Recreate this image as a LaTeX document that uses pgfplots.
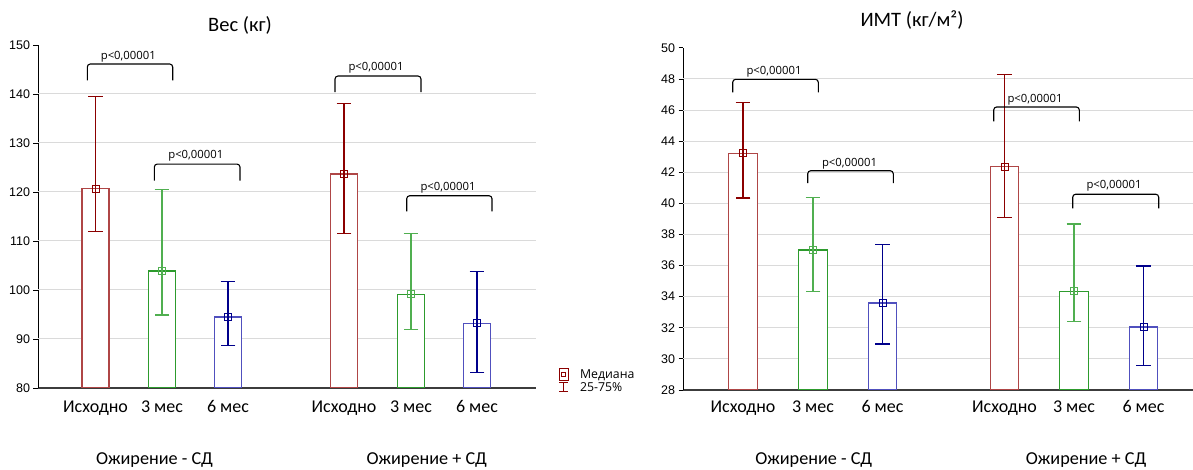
\documentclass[border=0pt]{standalone}
\usepackage{fontspec}
\setmainfont{Carlito}
\newfontfamily\arialf{Liberation Sans}
\newfontfamily\segoe{Open Sans}
\usepackage{pgfplots}
\pgfplotsset{compat=1.18}
\definecolor{redE}{RGB}{139,0,0}
\definecolor{redB}{RGB}{175,70,70}
\definecolor{greenE}{RGB}{80,175,80}
\definecolor{greenB}{RGB}{45,155,45}
\definecolor{blueE}{RGB}{0,0,139}
\definecolor{blueB}{RGB}{80,80,190}
\definecolor{gridc}{RGB}{218,218,218}
\definecolor{xaxc}{RGB}{60,60,60}

\pgfplotsset{
  base/.style={
    scale only axis,
    clip mode=individual,
    axis x line*=bottom,
    axis y line*=left,
    x axis line style={xaxc, line width=1.6pt},
    y axis line style={black, line width=0.8pt},
    tick align=outside,
    ytick pos=left,
    major tick length=4.5pt,
    ytick style={black, line width=0.8pt},
    xtick style={draw=none},
    /pgf/number format/assume math mode=true,
    yticklabel style={font=\arialf\fontsize{12.5}{15}\selectfont},
    xticklabel style={font=\fontsize{18}{21}\selectfont, anchor=base},
    major grid style={gridc, line width=1pt},
    extra y tick style={ymajorgrids=true, major tick length=0pt},
    extra y tick labels={},
  },
  barE/.style={ybar, bar shift=0pt, fill=white, line width=1.4pt, forget plot},
  errp/.style={only marks, mark=square, mark size=3.5pt, mark options={line width=0.9pt, solid}, forget plot,
     error bars/y dir=both, error bars/y explicit,
     error bars/error bar style={line width=1.2pt},
     error bars/error mark options={rotate=90, mark size=7.3pt, line width=1.2pt}},
}
\tikzset{
  pval/.style={font=\segoe\fontsize{11.3}{13}\selectfont, inner sep=0pt},
  brk/.style={black, line width=1.1pt, rounded corners=3pt},
  grp/.style={anchor=base, font=\fontsize{18.2}{21}\selectfont},
}

\begin{document}
\begin{tikzpicture}
\path[use as bounding box] (0,0) rectangle (1193pt,470pt);

% ---------------- left: weight
\begin{axis}[base,
  at={(38pt,82pt)}, anchor=south west,
  width=498pt, height=343pt,
  xmin=0, xmax=498, ymin=80, ymax=150,
  ytick={80,90,...,150},
  extra y ticks={90,100,...,140},
  xtick={57.5,124,190,306,373,439},
  xticklabels={Исходно,3 мес,6 мес,Исходно,3 мес,6 мес},
  xticklabel style={yshift=-19.7pt},
  title={Вес (кг)},
  title style={at={(axis description cs:0.4056,1)}, anchor=base, yshift=7.3pt, font=\fontsize{20.5}{24}\selectfont},
  legend cell align=left,
  legend style={at={(axis description cs:1.045,-0.02)}, anchor=south west, draw=none, fill=none,
     font=\segoe\fontsize{12.3}{14}\selectfont, row sep=-1.5pt, inner sep=0pt},
]
\addplot[barE, bar width=27, draw=redB] coordinates {(57.5,120.7) (306,123.7)};
\addplot[barE, bar width=27, draw=greenB] coordinates {(124,103.9) (373,99.1)};
\addplot[barE, bar width=27, draw=blueB] coordinates {(190,94.5) (439,93.2)};
\addplot[redE, errp] coordinates {(57.5,120.7) += (0,18.75) -= (0,8.7) (306,123.7) += (0,14.3) -= (0,12.1)};
\addplot[greenE, errp] coordinates {(124,103.9) += (0,16.65) -= (0,9.0) (373,99.1) += (0,12.5) -= (0,7.1)};
\addplot[blueE, errp] coordinates {(190,94.5) += (0,7.2) -= (0,5.9) (439,93.2) += (0,10.5) -= (0,10.1)};

\addlegendimage{legend image code/.code={
  \path[draw=none] (0pt,-6pt) rectangle (19pt,6pt);
  \draw[redE, line width=1pt] (0pt,-6pt) rectangle (9pt,6pt);
  \draw[redE, line width=1pt] (2.5pt,-2pt) rectangle (6.5pt,2pt);
}}
\addlegendentry{Медиана}
\addlegendimage{legend image code/.code={
  \path[draw=none] (0pt,-5pt) rectangle (19pt,5pt);
  \draw[redE, line width=1pt] (4.5pt,-4.5pt) -- (4.5pt,4.5pt) (0pt,-4.5pt) -- (9pt,-4.5pt) (0pt,4.5pt) -- (9pt,4.5pt);
}}
\addlegendentry{25-75\%}

\draw[brk] (axis cs:49.3,142.8) -- (axis cs:49.3,146.12) -- (axis cs:134.7,146.12) -- (axis cs:134.7,142.8);
\node[pval] at (axis cs:90.3,147.6) {p<0,00001};
\draw[brk] (axis cs:116.3,122.3) -- (axis cs:116.3,125.7) -- (axis cs:202,125.7) -- (axis cs:202,122.3);
\node[pval] at (axis cs:157.8,127.35) {p<0,00001};
\draw[brk] (axis cs:297,140.4) -- (axis cs:297,143.67) -- (axis cs:383,143.67) -- (axis cs:383,140.4);
\node[pval] at (axis cs:338,145.3) {p<0,00001};
\draw[brk] (axis cs:368.7,116.06) -- (axis cs:368.7,119.24) -- (axis cs:454,119.24) -- (axis cs:454,116.06);
\node[pval] at (axis cs:410,120.96) {p<0,00001};

\node[grp, yshift=-77pt] at (axis cs:116.5,80) {Ожирение - СД};
\node[grp, yshift=-77pt] at (axis cs:388.7,80) {Ожирение + СД};
\end{axis}

% ---------------- right: BMI
\begin{axis}[base,
  at={(683pt,80pt)}, anchor=south west,
  width=510pt, height=342.1pt,
  xmin=0, xmax=510, ymin=28, ymax=50,
  ytick={28,30,...,50},
  extra y ticks={30,32,...,48},
  xtick={60,130,199.5,321.5,391,460.5},
  xticklabels={Исходно,3 мес,6 мес,Исходно,3 мес,6 мес},
  xticklabel style={yshift=-18pt},
  title={ИМТ (кг/м²)},
  title style={at={(axis description cs:0.449,1)}, anchor=base, yshift=15.2pt, font=\fontsize{20.5}{24}\selectfont},
]
\addplot[barE, bar width=28.5, draw=redB] coordinates {(60,43.22) (321.5,42.36)};
\addplot[barE, bar width=28.5, draw=greenB] coordinates {(130,37.0) (391,34.35)};
\addplot[barE, bar width=28.5, draw=blueB] coordinates {(199.5,33.6) (460.5,32.05)};
\addplot[redE, errp] coordinates {(60,43.22) += (0,3.26) -= (0,2.87) (321.5,42.36) += (0,5.94) -= (0,3.28)};
\addplot[greenE, errp] coordinates {(130,37.0) += (0,3.39) -= (0,2.68) (391,34.35) += (0,4.32) -= (0,1.95)};
\addplot[blueE, errp] coordinates {(199.5,33.6) += (0,3.74) -= (0,2.64) (460.5,32.05) += (0,3.92) -= (0,2.49)};

\draw[brk] (axis cs:49.7,47.14) -- (axis cs:49.7,47.98) -- (axis cs:135.3,47.98) -- (axis cs:135.3,47.14);
\node[pval] at (axis cs:91,48.47) {p<0,00001};
\draw[brk] (axis cs:124.7,41.31) -- (axis cs:124.7,42.10) -- (axis cs:210.3,42.10) -- (axis cs:210.3,41.31);
\node[pval] at (axis cs:166.5,42.58) {p<0,00001};
\draw[brk] (axis cs:310.7,45.28) -- (axis cs:310.7,46.2) -- (axis cs:396.3,46.2) -- (axis cs:396.3,45.28);
\node[pval] at (axis cs:352,46.69) {p<0,00001};
\draw[brk] (axis cs:389.7,39.68) -- (axis cs:389.7,40.59) -- (axis cs:475.7,40.59) -- (axis cs:475.7,39.68);
\node[pval] at (axis cs:431,41.14) {p<0,00001};

\node[grp, yshift=-75pt] at (axis cs:130.7,28) {Ожирение - СД};
\node[grp, yshift=-75pt] at (axis cs:403,28) {Ожирение + СД};
\end{axis}
\end{tikzpicture}
\end{document}
